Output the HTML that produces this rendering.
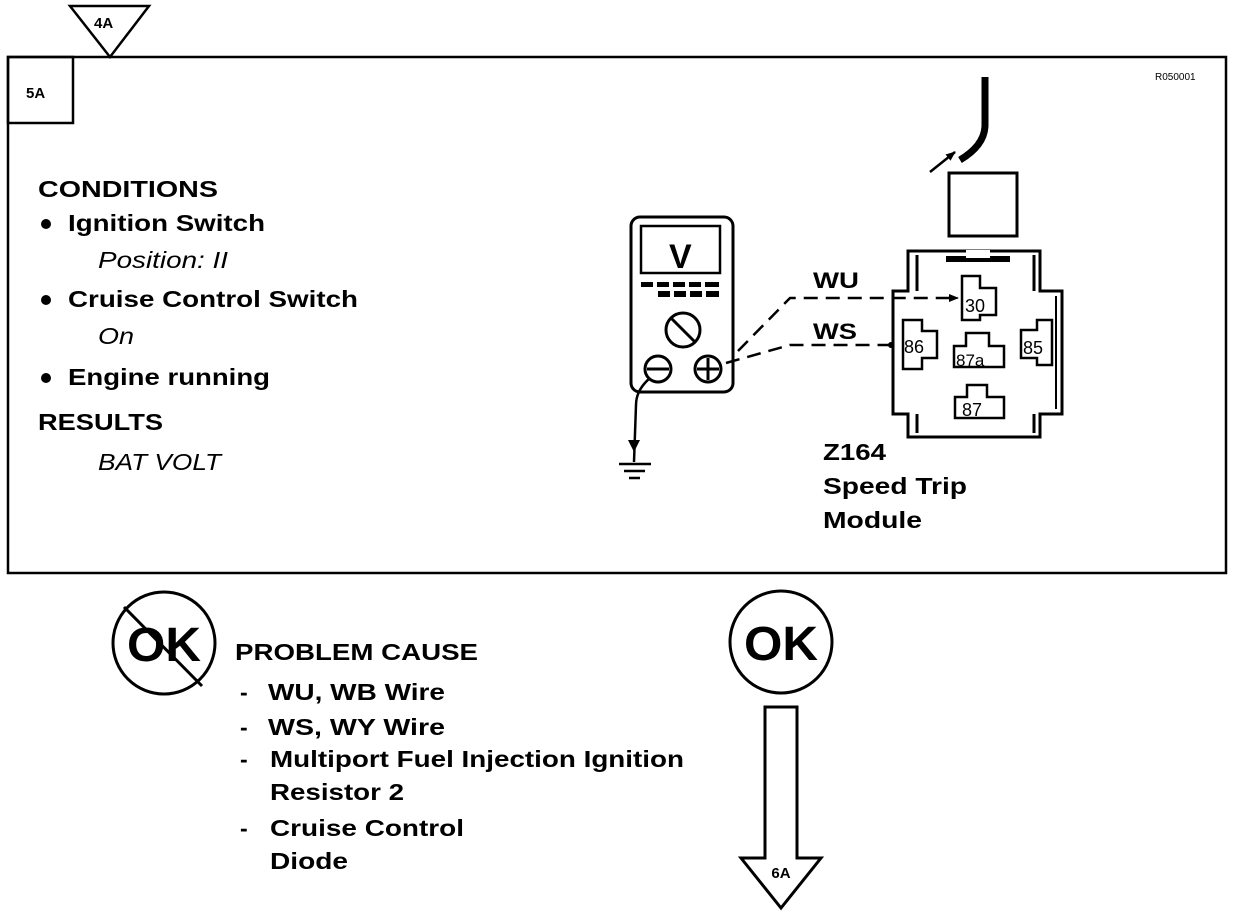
<!DOCTYPE html>
<html><head><meta charset="utf-8"><style>
html,body{margin:0;padding:0;background:#fff;}
svg{display:block;}
text{font-family:"Liberation Sans",Arial,sans-serif;font-weight:bold;fill:#000;}
.i{font-style:italic;}
</style></head><body>
<svg width="1248" height="916" viewBox="0 0 1248 916" xmlns="http://www.w3.org/2000/svg">
<defs>
<marker id="ah" markerWidth="10" markerHeight="8" refX="9" refY="4" orient="auto" markerUnits="userSpaceOnUse">
<path d="M0,0 L10,4 L0,8 Z" fill="#000"/></marker>
</defs>
<rect x="8" y="57" width="1218" height="516" fill="none" stroke="#000" stroke-width="2.5"/>
<rect x="8" y="57" width="65" height="66" fill="none" stroke="#000" stroke-width="2.5"/>
<text x="26" y="98" font-size="15">5A</text>
<polygon points="70,6 149,6 110,57" fill="#fff" stroke="#000" stroke-width="2.5"/>
<text x="94" y="28" font-size="15">4A</text>
<text x="1155" y="80" font-size="10" style="font-weight:normal">R050001</text>

<text x="38" y="197" font-size="23" textLength="180" lengthAdjust="spacingAndGlyphs">CONDITIONS</text>
<circle cx="46" cy="224" r="5"/>
<text x="68" y="231" font-size="23" textLength="197" lengthAdjust="spacingAndGlyphs">Ignition Switch</text>
<text x="98" y="268" font-size="23" class="i" style="font-weight:normal" textLength="130" lengthAdjust="spacingAndGlyphs">Position: II</text>
<circle cx="46" cy="300" r="5"/>
<text x="68" y="307" font-size="23" textLength="290" lengthAdjust="spacingAndGlyphs">Cruise Control Switch</text>
<text x="98" y="344" font-size="23" class="i" style="font-weight:normal" textLength="36" lengthAdjust="spacingAndGlyphs">On</text>
<circle cx="46" cy="378" r="5"/>
<text x="68" y="385" font-size="23" textLength="202" lengthAdjust="spacingAndGlyphs">Engine running</text>
<text x="38" y="430" font-size="23" textLength="125" lengthAdjust="spacingAndGlyphs">RESULTS</text>
<text x="98" y="470" font-size="23" class="i" style="font-weight:normal" textLength="123" lengthAdjust="spacingAndGlyphs">BAT VOLT</text>

<rect x="631" y="217" width="102" height="175" rx="9" fill="none" stroke="#000" stroke-width="3"/>
<rect x="641" y="226" width="79" height="47" fill="none" stroke="#000" stroke-width="2.5"/>
<text x="669" y="268" font-size="34">V</text>
<g fill="#000">
<rect x="641" y="282" width="12" height="5"/><rect x="657" y="282" width="12" height="5"/><rect x="673" y="282" width="12" height="5"/><rect x="689" y="282" width="12" height="5"/><rect x="705" y="282" width="14" height="5"/>
<rect x="658" y="291" width="12" height="6"/><rect x="674" y="291" width="12" height="6"/><rect x="690" y="291" width="12" height="6"/><rect x="706" y="291" width="13" height="6"/>
</g>
<circle cx="683" cy="330" r="17" fill="none" stroke="#000" stroke-width="3"/>
<line x1="671" y1="318" x2="695" y2="342" stroke="#000" stroke-width="3"/>
<circle cx="658" cy="369" r="13" fill="none" stroke="#000" stroke-width="3"/>
<line x1="647" y1="369" x2="669" y2="369" stroke="#000" stroke-width="3"/>
<circle cx="708" cy="369" r="13" fill="none" stroke="#000" stroke-width="3"/>
<line x1="697" y1="369" x2="719" y2="369" stroke="#000" stroke-width="3"/>
<line x1="708" y1="358" x2="708" y2="380" stroke="#000" stroke-width="3"/>
<path d="M650,378 Q636,390 636,405 L634,462" fill="none" stroke="#000" stroke-width="2.5"/>
<polygon points="628,440 640,440 634,452" fill="#000"/>
<line x1="619" y1="464" x2="651" y2="464" stroke="#000" stroke-width="2.5"/>
<line x1="624" y1="471" x2="645" y2="471" stroke="#000" stroke-width="2.5"/>
<line x1="629" y1="478" x2="640" y2="478" stroke="#000" stroke-width="2.5"/>

<path d="M738,351 L790,298 L958,298" fill="none" stroke="#000" stroke-width="2.5" stroke-dasharray="14,8" marker-end="url(#ah)"/>
<path d="M726,363 L790,345 L894,345" fill="none" stroke="#000" stroke-width="2.5" stroke-dasharray="14,8"/>
<circle cx="891" cy="345" r="3"/>
<text x="813" y="288" font-size="22" textLength="46" lengthAdjust="spacingAndGlyphs">WU</text>
<text x="813" y="339" font-size="22" textLength="44" lengthAdjust="spacingAndGlyphs">WS</text>

<path d="M985,77 L985,125 Q985,145 960,160" fill="none" stroke="#000" stroke-width="7"/>
<line x1="930" y1="172" x2="955" y2="152" stroke="#000" stroke-width="2.5" marker-end="url(#ah)"/>
<rect x="949" y="173" width="68" height="63" fill="none" stroke="#000" stroke-width="3"/>
<path d="M908,251 L1040,251 L1040,291 L1062,291 L1062,414 L1040,414 L1040,437 L908,437 L908,414 L893,414 L893,291 L908,291 Z" fill="none" stroke="#000" stroke-width="3"/>
<line x1="917" y1="255" x2="917" y2="291" stroke="#000" stroke-width="3"/>
<line x1="1034" y1="255" x2="1034" y2="291" stroke="#000" stroke-width="3"/>
<line x1="917" y1="414" x2="917" y2="433" stroke="#000" stroke-width="3"/>
<line x1="1034" y1="414" x2="1034" y2="433" stroke="#000" stroke-width="3"/>
<line x1="1056" y1="296" x2="1056" y2="409" stroke="#000" stroke-width="2"/>
<rect x="946" y="256" width="64" height="6" fill="#000"/>
<rect x="966" y="250" width="24" height="8" fill="#fff"/>
<g fill="none" stroke="#000" stroke-width="2.5">
<path d="M962,276 L980,276 L980,288 L996,288 L996,315 L980,315 L980,320 L962,320 Z"/>
<path d="M903,320 L922,320 L922,331 L937,331 L937,358 L922,358 L922,369 L903,369 Z"/>
<path d="M966,333 L989,333 L989,346 L1004,346 L1004,367 L954,367 L954,346 L966,346 Z"/>
<path d="M1052,320 L1037,320 L1037,330 L1021,330 L1021,358 L1037,358 L1037,365 L1052,365 Z"/>
<path d="M967,385 L987,385 L987,397 L1004,397 L1004,418 L955,418 L955,397 L967,397 Z"/>
</g>
<text x="965" y="312" font-size="18" style="font-weight:normal">30</text>
<text x="904" y="353" font-size="18" style="font-weight:normal">86</text>
<text x="956" y="366" font-size="17" style="font-weight:normal">87a</text>
<text x="1023" y="354" font-size="18" style="font-weight:normal">85</text>
<text x="962" y="416" font-size="18" style="font-weight:normal">87</text>
<text x="823" y="460" font-size="23" textLength="63" lengthAdjust="spacingAndGlyphs">Z164</text>
<text x="823" y="494" font-size="23" textLength="144" lengthAdjust="spacingAndGlyphs">Speed Trip</text>
<text x="823" y="528" font-size="23" textLength="99" lengthAdjust="spacingAndGlyphs">Module</text>

<circle cx="164" cy="643" r="51" fill="none" stroke="#000" stroke-width="3"/>
<text x="164" y="661" font-size="48" text-anchor="middle" textLength="74" lengthAdjust="spacingAndGlyphs">OK</text>
<line x1="124" y1="607" x2="202" y2="686" stroke="#000" stroke-width="3"/>
<text x="235" y="660" font-size="23" textLength="243" lengthAdjust="spacingAndGlyphs">PROBLEM CAUSE</text>
<text x="240" y="700" font-size="23">-</text>
<text x="268" y="700" font-size="23" textLength="177" lengthAdjust="spacingAndGlyphs">WU, WB  Wire</text>
<text x="240" y="735" font-size="23">-</text>
<text x="268" y="735" font-size="23" textLength="177" lengthAdjust="spacingAndGlyphs">WS, WY  Wire</text>
<text x="240" y="767" font-size="23">-</text>
<text x="270" y="767" font-size="23" textLength="414" lengthAdjust="spacingAndGlyphs">Multiport Fuel Injection Ignition</text>
<text x="270" y="800" font-size="23" textLength="134" lengthAdjust="spacingAndGlyphs">Resistor 2</text>
<text x="240" y="836" font-size="23">-</text>
<text x="270" y="836" font-size="23" textLength="194" lengthAdjust="spacingAndGlyphs">Cruise Control</text>
<text x="270" y="869" font-size="23" textLength="78" lengthAdjust="spacingAndGlyphs">Diode</text>

<circle cx="781" cy="642" r="51" fill="none" stroke="#000" stroke-width="3"/>
<text x="781" y="660" font-size="48" text-anchor="middle" textLength="74" lengthAdjust="spacingAndGlyphs">OK</text>
<polygon points="765,707 797,707 797,858 821,858 781,908 741,858 765,858" fill="none" stroke="#000" stroke-width="3"/>
<text x="781" y="878" font-size="15" text-anchor="middle">6A</text>
</svg>
</body></html>
